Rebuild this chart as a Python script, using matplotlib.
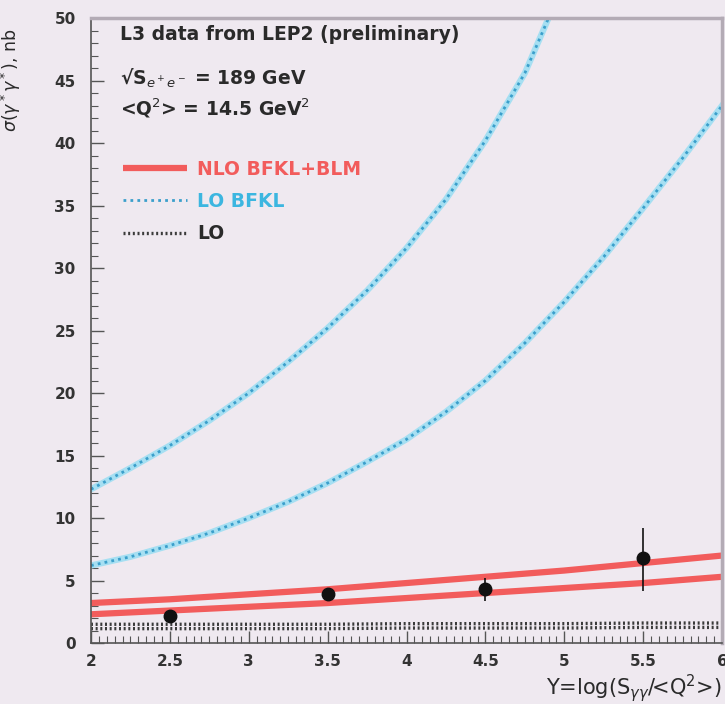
import numpy as np
import matplotlib.pyplot as plt
from matplotlib.ticker import MultipleLocator

# values
Y_GRID = [2.0, 2.5, 3.0, 3.5, 4.0, 4.5, 5.0, 5.5, 6.0]

nlo_upper = [3.2, 3.5, 3.9, 4.3, 4.8, 5.3, 5.8, 6.4, 7.0]
nlo_lower = [2.3, 2.6, 2.9, 3.2, 3.6, 4.0, 4.4, 4.8, 5.3]

lo_bfkl_upper_x = [2.0, 2.25, 2.5, 2.75, 3.0, 3.25, 3.5, 3.75, 4.0, 4.25, 4.5, 4.75, 4.9]
lo_bfkl_upper = [12.3, 14.0, 15.8, 17.8, 20.0, 22.5, 25.2, 28.2, 31.6, 35.5, 40.2, 45.6, 50.0]
lo_bfkl_lower_x = [2.0, 2.25, 2.5, 2.75, 3.0, 3.25, 3.5, 3.75, 4.0, 4.25, 4.5,
                   4.75, 5.0, 5.25, 5.5, 5.75, 6.0]
lo_bfkl_lower = [6.2, 6.9, 7.8, 8.8, 10.0, 11.3, 12.8, 14.5, 16.3, 18.5, 21.0,
                 24.0, 27.3, 30.9, 34.8, 38.8, 43.0]

lo_upper = [1.5, 1.5, 1.5, 1.5, 1.55, 1.55, 1.55, 1.6, 1.6]
lo_lower = [1.15, 1.15, 1.15, 1.15, 1.2, 1.2, 1.2, 1.25, 1.25]

data_x = [2.5, 3.5, 4.5, 5.5]
data_y = [2.2, 3.9, 4.3, 6.8]
err_lo = [0.4, 0.4, 0.9, 2.6]
err_hi = [0.4, 0.4, 0.9, 2.4]

bg = '#efe9f0'
red = '#f25c5c'
cyan_light = '#a6dff2'
cyan_dark = '#3b9fcb'
ink = '#2a2a2a'

fig = plt.figure(figsize=(7.25, 7.04), dpi=100, facecolor=bg)
ax = fig.add_axes([0.1255, 0.0866, 0.8705, 0.8878], facecolor=bg)

# NLO BFKL + BLM band edges
nlo_line, = ax.plot(Y_GRID, nlo_upper, color=red, lw=4.5, solid_capstyle='butt')
ax.plot(Y_GRID, nlo_lower, color=red, lw=4.5, solid_capstyle='butt')

# LO BFKL (light halo with dotted core)
for xs, ys in [(lo_bfkl_upper_x, lo_bfkl_upper), (lo_bfkl_lower_x, lo_bfkl_lower)]:
    ax.plot(xs, ys, color=cyan_light, lw=4.5)
    bfkl_line, = ax.plot(xs, ys, color=cyan_dark, lw=2.0, linestyle=(0, (1, 1.5)))

# LO
lo_line, = ax.plot(Y_GRID, lo_upper, color='#3a3a3a', lw=2.4, linestyle=(0, (0.6, 0.8)))
ax.plot(Y_GRID, lo_lower, color='#3a3a3a', lw=2.4, linestyle=(0, (0.6, 0.8)))

# L3 data
ax.errorbar(data_x, data_y, yerr=[err_lo, err_hi], fmt='o', color='#111111',
            ms=9, elinewidth=1.2, capsize=0, zorder=5)

ax.set_xlim(2, 6)
ax.set_ylim(0, 50)
ax.xaxis.set_major_locator(MultipleLocator(0.5))
ax.xaxis.set_minor_locator(MultipleLocator(0.05))
ax.yaxis.set_major_locator(MultipleLocator(5))
ax.yaxis.set_minor_locator(MultipleLocator(1))
ax.xaxis.set_major_formatter(plt.FuncFormatter(lambda v, p: ('%g' % v)))
ax.tick_params(which='both', direction='in', colors='#555555', labelcolor='#333333',
               labelsize=11, top=False, right=False)
ax.tick_params(which='major', length=9, width=1)
ax.tick_params(which='minor', length=5, width=0.8)
ax.tick_params(axis='y', pad=11)
ax.tick_params(axis='x', pad=8)
for lab in ax.get_xticklabels() + ax.get_yticklabels():
    lab.set_fontweight('bold')

for s in ['left', 'bottom']:
    ax.spines[s].set_color('#555555')
    ax.spines[s].set_linewidth(1.2)
for s in ['top', 'right']:
    ax.spines[s].set_color('#b3abb5')
    ax.spines[s].set_linewidth(2.5)

ax.set_ylabel(r'$\sigma(\gamma^*\gamma^*)$, nb', fontsize=12.5, color=ink)
ax.yaxis.set_label_coords(-0.108, 0.90)
ax.set_xlabel(r'Y=log(S$_{\gamma\gamma}$/<Q$^2$>)', fontsize=15, color=ink, loc='right',
              labelpad=2)

tkw = dict(transform=ax.transAxes, fontsize=13.5, fontweight='bold', color=ink,
           va='center', ha='left')
ax.text(0.046, 0.973, 'L3 data from LEP2 (preliminary)', **tkw)
ax.text(0.046, 0.904, r'√S$_{e^+e^-}$ = 189 GeV', **tkw)
ax.text(0.046, 0.856, r'<Q$^2$> = 14.5 GeV$^2$', **tkw)

leg = ax.legend([nlo_line, bfkl_line, lo_line], ['NLO BFKL+BLM', 'LO BFKL', 'LO'],
                loc='upper left', bbox_to_anchor=(0.024, 0.80), frameon=False,
                prop={'size': 13.5, 'weight': 'bold'}, handlelength=3.4,
                handletextpad=0.55, labelspacing=0.7)
for txt, c in zip(leg.get_texts(), [red, '#3cb6e0', ink]):
    txt.set_color(c)

fig.savefig('out.png', dpi=100, facecolor=bg)
